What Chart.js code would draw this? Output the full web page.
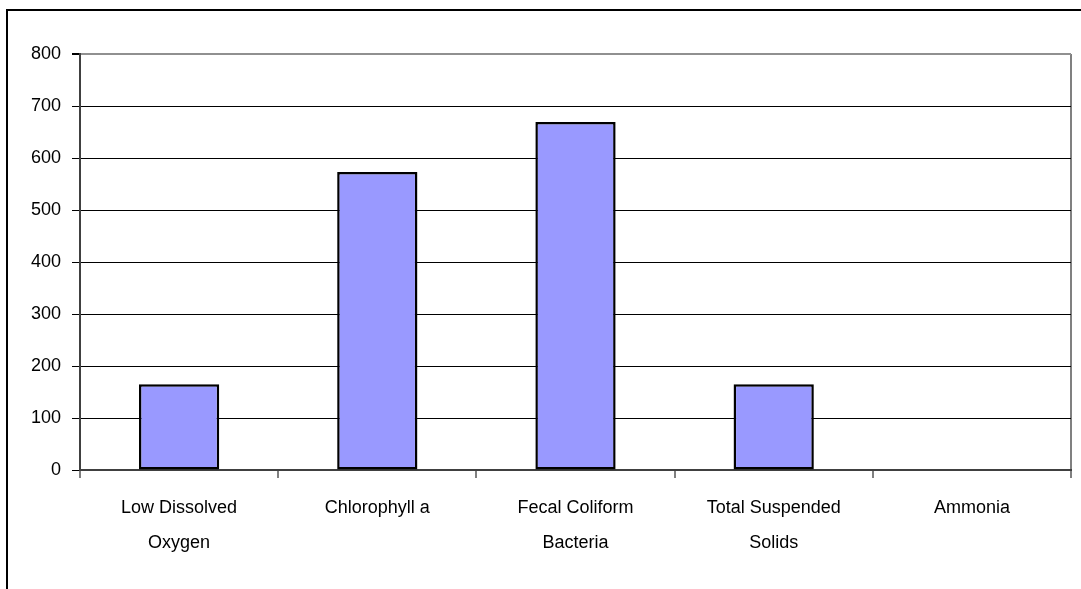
<!DOCTYPE html>
<html>
<head>
<meta charset="utf-8">
<script src="https://cdn.jsdelivr.net/npm/chart.js@4"></script>
<style>
    body { margin: 0; background: #fff; }
    canvas { display: block; }
</style>
</head>
<body>
<canvas id="impairChart" width="1081" height="589"></canvas>
<script>
// Chart data
const categories = [
    ['Low Dissolved', 'Oxygen'],
    'Chlorophyll a',
    ['Fecal Coliform', 'Bacteria'],
    ['Total Suspended', 'Solids'],
    'Ammonia'
];
const values = [165, 573, 669, 165, 0];
const yTicks = [0, 100, 200, 300, 400, 500, 600, 700, 800];

// Outer frame (top and left edges, rest cropped)
const framePlugin = {
    id: 'frame',
    beforeDraw(chart) {
        const ctx = chart.ctx;
        ctx.save();
        ctx.strokeStyle = '#000';
        ctx.lineWidth = 2;
        ctx.beginPath();
        ctx.moveTo(7, 589);
        ctx.lineTo(7, 10);
        ctx.lineTo(1081, 10);
        ctx.stroke();
        ctx.restore();
    }
};

const ctx = document.getElementById('impairChart').getContext('2d');
const impairChart = new Chart(ctx, {
    type: 'bar',
    data: {
        labels: categories,
        datasets: [{
            data: values,
            backgroundColor: '#9999FF',
            borderColor: '#000',
            borderWidth: 2.5,
            borderSkipped: false,
            categoryPercentage: 1,
            barPercentage: 0.405
        }]
    },
    options: {
        responsive: false,
        animation: false,
        layout: {
            padding: { top: 54, right: 10, bottom: 0, left: 0 }
        },
        plugins: {
            legend: { display: false },
            tooltip: { enabled: false }
        },
        scales: {
            x: {
                afterFit: scale => { scale.height = 119; },
                grid: {
                    offset: true,
                    color: c => c.type === 'tick' ? 'transparent' : '#808080',
                    tickColor: '#808080',
                    tickLength: 8,
                    lineWidth: 2
                },
                border: { color: '#404040', width: 2 },
                ticks: {
                    color: '#000',
                    padding: 13,
                    maxRotation: 0,
                    font: { family: 'Liberation Sans', size: 18, lineHeight: '35px' }
                }
            },
            y: {
                min: 0,
                max: 800,
                afterFit: scale => { scale.width = 80; },
                afterBuildTicks: scale => {
                    scale.ticks = yTicks.map(v => ({ value: v }));
                },
                grid: {
                    color: c => c.tick && c.tick.value === 800 ? '#909090' : '#000',
                    lineWidth: c => c.tick && c.tick.value === 800 ? 2 : 1,
                    tickColor: '#000',
                    tickLength: 8
                },
                border: { color: '#404040', width: 2 },
                ticks: {
                    color: '#000',
                    padding: 11,
                    font: { family: 'Liberation Sans', size: 18 }
                }
            }
        }
    },
    plugins: [framePlugin]
});
</script>
</body>
</html>
